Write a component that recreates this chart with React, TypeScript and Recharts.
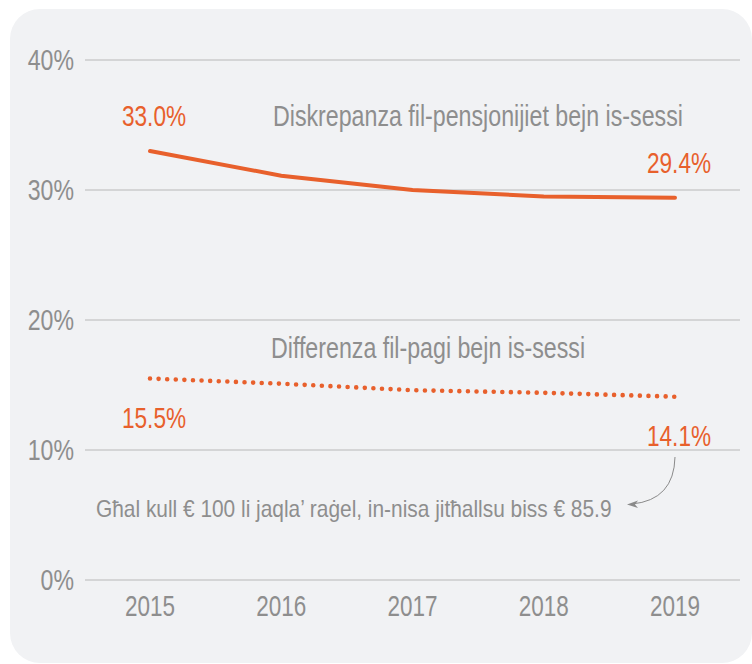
import { LineChart, Line, XAxis, YAxis, CartesianGrid, LabelList } from 'recharts'

const years = ['2015', '2016', '2017', '2018', '2019']
const pensionGap = [33.0, 31.1, 30.0, 29.5, 29.4]
const payGap = [15.5, 15.1, 14.6, 14.4, 14.1]
const yTicks = [0, 10, 20, 30, 40]

const ORANGE = '#e8602c'
const GREY = '#8e8e8e'
const FONT = '"Liberation Sans", Arial, sans-serif'

const data = years.map((year, i) => ({
    year,
    pension: pensionGap[i],
    pay: payGap[i],
}))

// no condensed font installed, so squeeze the glyphs horizontally
function Narrow(props: any) {
    const { x, y, children, size = 29, sx = 0.78, anchor = 'start', fill = GREY } = props
    return (
        <text transform={`translate(${x},${y}) scale(${sx},1)`} textAnchor={anchor}
            fontSize={size} fontFamily={FONT} fill={fill}>
            {children}
        </text>
    )
}

function EndLabel(props: any, dy: number) {
    const { x, y, index, value } = props
    if (index !== 0 && index !== years.length - 1) return null
    return <Narrow x={x + 4} y={y + dy} anchor="middle" fill={ORANGE}>{Number(value).toFixed(1) + '%'}</Narrow>
}

function YTick(props: any) {
    const { y, payload } = props
    return <Narrow x={74} y={y + 10} anchor="end" size={30} sx={0.77}>{payload.value + '%'}</Narrow>
}

function XTick(props: any) {
    const { x, y, payload } = props
    return <Narrow x={x} y={y + 28} anchor="middle" size={30} sx={0.75}>{payload.value}</Narrow>
}

export default function App() {
    return (
        <div style={{ position: 'absolute', left: 0, top: 0, width: 752, height: 664, background: '#fff' }}>
            <div style={{ position: 'absolute', left: 10, top: 9, width: 742, height: 654, background: '#f1f2f4', borderRadius: 30 }} />
            <div style={{ position: 'absolute', left: 0, top: 0 }}>
                <LineChart width={752} height={664} data={data} margin={{ top: 60, right: 12, left: 0, bottom: 44 }}>
                    <CartesianGrid vertical={false} stroke="#b8b8b8" strokeWidth={1} />
                    <XAxis dataKey="year" axisLine={false} tickLine={false} height={40} padding={{ left: 65, right: 65 }} tick={<XTick />} />
                    <YAxis domain={[0, 40]} ticks={yTicks} axisLine={false} tickLine={false} width={85} tick={<YTick />} />
                    <Line type="linear" dataKey="pension" stroke={ORANGE} strokeWidth={4} strokeLinecap="round" dot={false} isAnimationActive={false}>
                        <LabelList dataKey="pension" content={(p: any) => EndLabel(p, -25)} />
                    </Line>
                    <Line type="linear" dataKey="pay" stroke={ORANGE} strokeWidth={4.6} strokeLinecap="round" strokeDasharray="0 8.6" dot={false} isAnimationActive={false}>
                        <LabelList dataKey="pay" content={(p: any) => EndLabel(p, 49)} />
                    </Line>
                </LineChart>
            </div>
            <svg width={752} height={664} style={{ position: 'absolute', left: 0, top: 0, pointerEvents: 'none' }}>
                <Narrow x={273} y={126} sx={0.8}>Diskrepanza fil-pensjonijiet bejn is-sessi</Narrow>
                <Narrow x={271} y={358} sx={0.8}>Differenza fil-pagi bejn is-sessi</Narrow>
                <Narrow x={96} y={517} size={24} sx={0.87}>Għal kull € 100 li jaqla’ raġel, in-nisa jitħallsu biss € 85.9</Narrow>
                <path d="M675,457 Q674,500 632,504" fill="none" stroke="#8a8a8a" strokeWidth={1} />
                <path d="M627,504.5 L638,500.5 L635,504.5 L638,508 Z" fill="#8a8a8a" />
            </svg>
        </div>
    )
}
